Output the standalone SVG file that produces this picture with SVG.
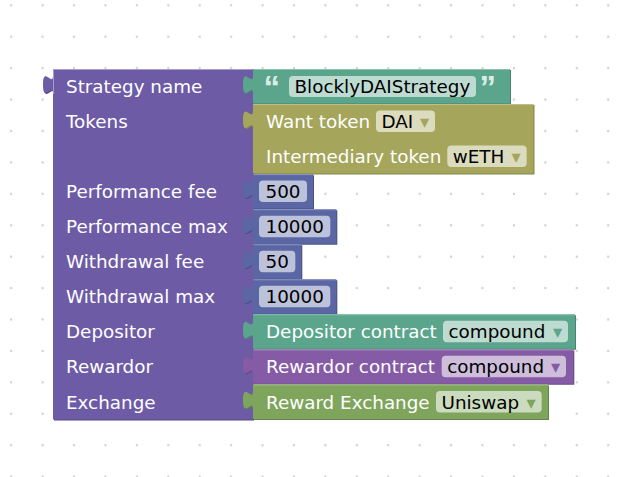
<svg xmlns="http://www.w3.org/2000/svg" width="634" height="477" viewBox="0 0 634 477">
<defs>
<pattern id="grid" patternUnits="userSpaceOnUse" x="-4.51" y="-10.41" width="31.42" height="31.42">
<circle cx="15.71" cy="15.71" r="1.2" fill="#d0d0d0"/>
</pattern>
<style>
.lbl{font-family:"DejaVu Sans","Noto Sans",sans-serif;font-size:18.33px;fill:#fff}
.ft{font-family:"DejaVu Sans","Noto Sans",sans-serif;font-size:18.33px;fill:#000}
.fr{fill:#fff;fill-opacity:.6}
.arr{font-family:"DejaVu Sans",sans-serif;font-size:18.33px;text-anchor:middle}
.q{font-family:"Liberation Sans",Arial,sans-serif;font-size:33px;font-weight:bold;fill:#fff;fill-opacity:.8}
.hl{fill:none;stroke-width:1}
</style>
</defs>
<rect width="634" height="477" fill="#fff"/>
<rect width="634" height="477" fill="url(#grid)"/>

<g id="strategy-main">
<path transform="translate(1,1)" fill="#574984" d="M53,69 H253 V419.5 H53 V94 c0,-12.5 -10,10 -10,-9.375 s10,3.125 10,-9.375 Z"/>
<path fill="#6d5ba6" d="M53,69 H253 V419.5 H53 V94 c0,-12.5 -10,10 -10,-9.375 s10,3.125 10,-9.375 Z"/>
<path class="hl" stroke="#a79dcb" d="M53.5,94 V69.5 H252.5"/>
<text class="lbl" x="66" y="93">Strategy name</text>
<text class="lbl" x="66" y="128.1">Tokens</text>
<text class="lbl" x="66" y="198.2">Performance fee</text>
<text class="lbl" x="66" y="233.2">Performance max</text>
<text class="lbl" x="66" y="268.3">Withdrawal fee</text>
<text class="lbl" x="66" y="303.3">Withdrawal max</text>
<text class="lbl" x="66" y="338.4">Depositor</text>
<text class="lbl" x="66" y="373.4">Rewardor</text>
<text class="lbl" x="66" y="408.5">Exchange</text>
</g>

<g id="name-text">
<path transform="translate(1,1)" fill="#498470" d="M253,69 H510 V103.5 H253 V94 c0,-12.5 -10,10 -10,-9.375 s10,3.125 10,-9.375 Z"/>
<path fill="#5ba58c" d="M253,69 H510 V103.5 H253 V94 c0,-12.5 -10,10 -10,-9.375 s10,3.125 10,-9.375 Z"/>
<path class="hl" stroke="#8cc0ae" d="M253.5,69.5 H509.5"/>
<text class="q" x="263.5" y="98.5">“</text>
<rect class="fr" x="289" y="76" width="187" height="21" rx="4"/>
<text class="ft" x="294.5" y="93">BlocklyDAIStrategy</text>
<text class="q" x="479.5" y="98.5">”</text>
</g>

<g id="tokens">
<path transform="translate(1,1)" fill="#848449" d="M253,104.05 H533.5 V173.6 H253 V129.05 c0,-12.5 -10,10 -10,-9.375 s10,3.125 10,-9.375 Z"/>
<path fill="#a5a55b" d="M253,104.05 H533.5 V173.6 H253 V129.05 c0,-12.5 -10,10 -10,-9.375 s10,3.125 10,-9.375 Z"/>
<path class="hl" stroke="#c0c08c" d="M253.5,104.55 H533"/>
<text class="lbl" x="266" y="128.1">Want token</text>
<rect class="fr" x="376" y="110.5" width="59" height="21.5" rx="4"/>
<text class="ft" x="381.5" y="128.1">DAI</text>
<text class="arr" x="424.5" y="128.1" fill="#a5a55b">▾</text>
<text class="lbl" x="266" y="163.1">Intermediary token</text>
<rect class="fr" x="447.3" y="145.6" width="79.4" height="21.5" rx="4"/>
<text class="ft" x="452.8" y="163.1">wETH</text>
<text class="arr" x="516.2" y="163.1" fill="#a5a55b">▾</text>
</g>

<g id="perf-fee">
<path transform="translate(1,1)" fill="#495284" d="M253,174.15 H313 V208.6 H253 V199.15 c0,-12.5 -10,10 -10,-9.375 s10,3.125 10,-9.375 Z"/>
<path fill="#5b67a5" d="M253,174.15 H313 V208.6 H253 V199.15 c0,-12.5 -10,10 -10,-9.375 s10,3.125 10,-9.375 Z"/>
<path class="hl" stroke="#8c95c0" d="M253.5,174.65 H312.5"/>
<rect class="fr" x="259" y="180.6" width="48" height="21.5" rx="4"/>
<text class="ft" x="265.5" y="198.2">500</text>
</g>

<g id="perf-max">
<path transform="translate(1,1)" fill="#495284" d="M253,209.2 H336.3 V243.65 H253 V234.2 c0,-12.5 -10,10 -10,-9.375 s10,3.125 10,-9.375 Z"/>
<path fill="#5b67a5" d="M253,209.2 H336.3 V243.65 H253 V234.2 c0,-12.5 -10,10 -10,-9.375 s10,3.125 10,-9.375 Z"/>
<path class="hl" stroke="#8c95c0" d="M253.5,209.7 H335.8"/>
<rect class="fr" x="259" y="215.65" width="71.3" height="21.5" rx="4"/>
<text class="ft" x="265.5" y="233.2">10000</text>
</g>

<g id="withdraw-fee">
<path transform="translate(1,1)" fill="#495284" d="M253,244.25 H301.3 V278.7 H253 V269.25 c0,-12.5 -10,10 -10,-9.375 s10,3.125 10,-9.375 Z"/>
<path fill="#5b67a5" d="M253,244.25 H301.3 V278.7 H253 V269.25 c0,-12.5 -10,10 -10,-9.375 s10,3.125 10,-9.375 Z"/>
<path class="hl" stroke="#8c95c0" d="M253.5,244.75 H300.8"/>
<rect class="fr" x="259" y="250.7" width="36.3" height="21.5" rx="4"/>
<text class="ft" x="265.5" y="268.3">50</text>
</g>

<g id="withdraw-max">
<path transform="translate(1,1)" fill="#495284" d="M253,279.3 H336.3 V313.75 H253 V304.3 c0,-12.5 -10,10 -10,-9.375 s10,3.125 10,-9.375 Z"/>
<path fill="#5b67a5" d="M253,279.3 H336.3 V313.75 H253 V304.3 c0,-12.5 -10,10 -10,-9.375 s10,3.125 10,-9.375 Z"/>
<path class="hl" stroke="#8c95c0" d="M253.5,279.8 H335.8"/>
<rect class="fr" x="259" y="285.75" width="71.3" height="21.5" rx="4"/>
<text class="ft" x="265.5" y="303.3">10000</text>
</g>

<g id="depositor">
<path transform="translate(1,1)" fill="#498470" d="M253,314.35 H575 V348.8 H253 V339.35 c0,-12.5 -10,10 -10,-9.375 s10,3.125 10,-9.375 Z"/>
<path fill="#5ba58c" d="M253,314.35 H575 V348.8 H253 V339.35 c0,-12.5 -10,10 -10,-9.375 s10,3.125 10,-9.375 Z"/>
<path class="hl" stroke="#8cc0ae" d="M253.5,314.85 H574.5"/>
<text class="lbl" x="266" y="338.4">Depositor contract</text>
<rect class="fr" x="443" y="320.8" width="125" height="21.5" rx="4"/>
<text class="ft" x="448.5" y="338.4">compound</text>
<text class="arr" x="557.5" y="338.4" fill="#5ba58c">▾</text>
</g>

<g id="rewardor">
<path transform="translate(1,1)" fill="#6b4984" d="M253,349.4 H573.3 V383.85 H253 V374.4 c0,-12.5 -10,10 -10,-9.375 s10,3.125 10,-9.375 Z"/>
<path fill="#865ba5" d="M253,349.4 H573.3 V383.85 H253 V374.4 c0,-12.5 -10,10 -10,-9.375 s10,3.125 10,-9.375 Z"/>
<path class="hl" stroke="#aa8cc0" d="M253.5,349.9 H572.8"/>
<text class="lbl" x="266" y="373.4">Rewardor contract</text>
<rect class="fr" x="441.7" y="355.85" width="124.3" height="21.5" rx="4"/>
<text class="ft" x="447.2" y="373.4">compound</text>
<text class="arr" x="555.5" y="373.4" fill="#865ba5">▾</text>
</g>

<g id="exchange">
<path transform="translate(1,1)" fill="#658449" d="M253,384.45 H548 V418.9 H253 V409.45 c0,-12.5 -10,10 -10,-9.375 s10,3.125 10,-9.375 Z"/>
<path fill="#7ea55b" d="M253,384.45 H548 V418.9 H253 V409.45 c0,-12.5 -10,10 -10,-9.375 s10,3.125 10,-9.375 Z"/>
<path class="hl" stroke="#a5c08c" d="M253.5,384.95 H547.5"/>
<text class="lbl" x="266" y="408.5">Reward Exchange</text>
<rect class="fr" x="436" y="390.9" width="105.7" height="21.5" rx="4"/>
<text class="ft" x="441.5" y="408.5">Uniswap</text>
<text class="arr" x="531.2" y="408.5" fill="#7ea55b">▾</text>
</g>

<g id="connectors"></g>
</svg>
